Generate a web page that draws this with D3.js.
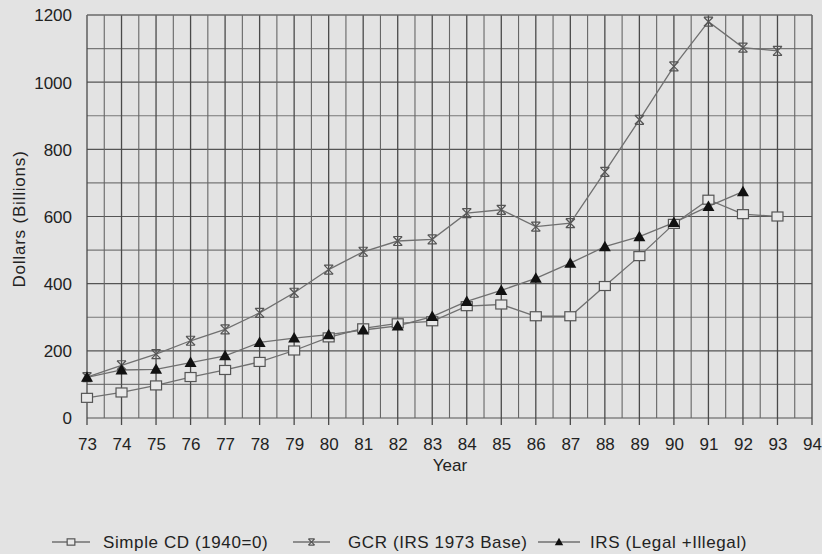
<!DOCTYPE html>
<html><head><meta charset="utf-8">
<script src="https://cdn.jsdelivr.net/npm/d3@7"></script>
<style>
body{margin:0;background:#e3e3e3;}
svg{display:block;font-family:"Liberation Sans",Arial,sans-serif;}
</style></head><body>
<svg id="c" width="822" height="554"></svg>
<script>
const years = [73,74,75,76,77,78,79,80,81,82,83,84,85,86,87,88,89,90,91,92,93];
const simpleCD = [60,76,97,122,143,167,201,240,267,282,288,333,338,303,303,393,482,578,650,607,600];
const gcr = [122,157,190,230,264,313,373,442,495,527,532,610,620,570,580,733,888,1047,1180,1103,1093];
const irs = [121,143,145,165,185,225,238,248,262,274,302,347,380,416,461,510,540,582,630,674];
const xTicks = [73,74,75,76,77,78,79,80,81,82,83,84,85,86,87,88,89,90,91,92,93,94];
const yTicks = [0,200,400,600,800,1000,1200];
const seriesNames = ["Simple CD (1940=0)","GCR (IRS 1973 Base)","IRS (Legal +Illegal)"];

const svg = d3.select("#c");
const m = {left:87, right:812, top:15, bottom:418};
const x = d3.scaleLinear().domain([73,94]).range([m.left,m.right]);
const y = d3.scaleLinear().domain([0,1200]).range([m.bottom,m.top]);

svg.append("rect").attr("width",822).attr("height",554).attr("fill","#e3e3e3");

const g = svg.append("g");
d3.range(0,1201,100).forEach(v=>{
  g.append("line").attr("x1",m.left).attr("x2",m.right).attr("y1",y(v)).attr("y2",y(v))
   .attr("stroke", v%200===0 ? "#555" : "#777").attr("stroke-width",1.2);
});
d3.range(73,94.01,0.5).forEach(v=>{
  const major = Number.isInteger(v);
  g.append("line").attr("x1",x(v)).attr("x2",x(v)).attr("y1",m.top).attr("y2",major? m.bottom+7 : m.bottom)
   .attr("stroke", major ? "#4a4a4a" : "#666").attr("stroke-width",major?1.3:1.1);
});
g.append("line").attr("x1",m.left).attr("x2",m.right).attr("y1",m.top).attr("y2",m.top).attr("stroke","#777").attr("stroke-width",1.2);

const font = "Liberation Sans, Arial, sans-serif";
const xAxis = d3.axisBottom(x).tickValues(xTicks).tickSize(0).tickPadding(0).tickFormat(d3.format("d"));
const xa = svg.append("g").attr("transform",`translate(0,${m.bottom})`).call(xAxis);
xa.select(".domain").remove();
xa.selectAll("text").attr("dy",0).attr("y",32).attr("font-size",17).attr("fill","#222").attr("font-family",font);

const yAxis = d3.axisLeft(y).tickValues(yTicks).tickSize(0).tickPadding(0).tickFormat(d3.format("d"));
const ya = svg.append("g").attr("transform",`translate(72,0)`).call(yAxis);
ya.select(".domain").remove();
ya.selectAll("text").attr("font-size",17).attr("fill","#222").attr("font-family",font).attr("dy","0.35em");

svg.append("text").attr("x",450).attr("y",471).attr("text-anchor","middle").attr("font-size",17).attr("fill","#222").text("Year");
svg.append("text").attr("transform","translate(25,219) rotate(-90)").attr("text-anchor","middle").attr("font-size",17).attr("letter-spacing",0.8).attr("fill","#222").text("Dollars (Billions)");

const line = d3.line().x((d,i)=>x(years[i])).y(d=>y(d));
const lc = "#707070";
[simpleCD,gcr,irs].forEach(s=>{
  svg.append("path").attr("d",line(s)).attr("fill","none").attr("stroke",lc).attr("stroke-width",1.3);
});

function square(sel,cx,cy,k=1){
  sel.append("rect").attr("x",cx-5.5*k).attr("y",cy-4.5*k).attr("width",11*k).attr("height",9*k)
    .attr("fill","#e8e8e8").attr("stroke","#555").attr("stroke-width",1.2);
}
function cross(sel,cx,cy,k=1){
  const s=4.5*k;
  sel.append("path").attr("d",`M${cx-s},${cy-s}L${cx+s},${cy+s}M${cx+s},${cy-s}L${cx-s},${cy+s}M${cx-s},${cy-s}L${cx+s},${cy-s}M${cx-s},${cy+s}L${cx+s},${cy+s}`)
    .attr("fill","none").attr("stroke","#555").attr("stroke-width",1.2);
}
function tri(sel,cx,cy,k=1){
  sel.append("path").attr("d",`M${cx},${cy-6*k}L${cx+6*k},${cy+4.5*k}L${cx-6*k},${cy+4.5*k}Z`).attr("fill","#111");
}
const mk = svg.append("g");
simpleCD.forEach((v,i)=>square(mk,x(years[i]),y(v)));
gcr.forEach((v,i)=>cross(mk,x(years[i]),y(v)));
irs.forEach((v,i)=>tri(mk,x(years[i]),y(v)));

// legend
const ly = 542;
const leg = svg.append("g");
const items = [{x0:52,x1:90,tx:103,f:square},{x0:293,x1:330,tx:348,f:cross},{x0:538,x1:580,tx:590,f:tri}];
items.forEach((it,i)=>{
  leg.append("line").attr("x1",it.x0).attr("x2",it.x1).attr("y1",ly).attr("y2",ly).attr("stroke",lc).attr("stroke-width",1.3);
  it.f(leg,(it.x0+it.x1)/2,ly,0.7);
  leg.append("text").attr("x",it.tx).attr("y",ly+6).attr("font-size",17).attr("letter-spacing",0.6).attr("fill","#222").text(seriesNames[i]);
});
</script></body></html>
